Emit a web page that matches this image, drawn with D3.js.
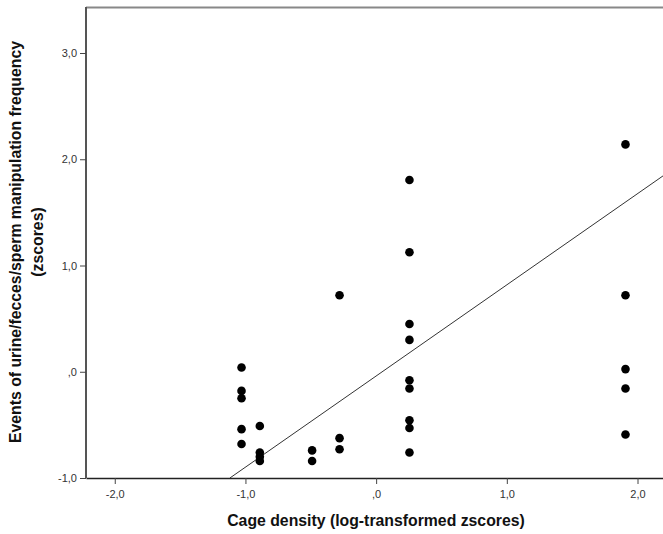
<!DOCTYPE html>
<html>
<head>
<meta charset="utf-8">
<script src="https://cdn.jsdelivr.net/npm/d3@7"></script>
<style>
  html, body { margin: 0; padding: 0; background: #fff; }
  svg { display: block; font-family: "Liberation Sans", Arial, sans-serif; }
</style>
</head>
<body>
<svg id="chart" width="663" height="534"></svg>
<script>
// Cage density groups (log-transformed z-scores) and observed z-scores per group
const densityX = [-1.03, -0.89, -0.49, -0.28, 0.255, 1.908];
const groupValues = [
  [0.04, -0.18, -0.25, -0.54, -0.68],
  [-0.51, -0.76, -0.80, -0.84],
  [-0.74, -0.84],
  [0.72, -0.625, -0.73],
  [1.805, 1.125, 0.45, 0.30, -0.08, -0.157, -0.456, -0.53, -0.76],
  [2.14, 0.72, 0.025, -0.157, -0.59]
];
// Linear fit (intercept, slope)
const fitIntercept = -0.04;
const fitSlope = 0.858;

const xTicks = [-2, -1, 0, 1, 2];
const yTicks = [-1, 0, 1, 2, 3];

const fmt = v => {
  const s = Math.abs(v).toFixed(1).replace(".", ",");
  const t = s.startsWith("0") ? s.slice(1) : s;
  return (v < 0 ? "-" : "") + t;
};

const svg = d3.select("#chart");
const mLeft = 86, mRight = 663, mTop = 7, mBottom = 478;

const x = d3.scaleLinear().domain([-2.22, 2.195]).range([mLeft, mRight]);
const y = d3.scaleLinear().domain([-1, 3]).range([mBottom, 53]);

const points = [];
densityX.forEach((dx, i) => groupValues[i].forEach(v => points.push({x: dx, y: v})));

// frame: top border
svg.append("line")
  .attr("x1", mLeft).attr("x2", mRight)
  .attr("y1", mTop + 0.5).attr("y2", mTop + 0.5)
  .attr("stroke", "#888").attr("stroke-width", 2);

// axes
const xAxis = svg.append("g")
  .attr("transform", `translate(0,${mBottom})`)
  .call(d3.axisBottom(x).tickValues(xTicks).tickFormat(fmt).tickSize(6).tickSizeOuter(0));
const yAxis = svg.append("g")
  .attr("transform", `translate(${mLeft},0)`)
  .call(d3.axisLeft(y).tickValues(yTicks).tickFormat(fmt).tickSize(6).tickSizeOuter(0));

yAxis.select(".domain").attr("d", `M0,${mTop}V${mBottom}`).attr("stroke", "#555").attr("stroke-width", 2);
xAxis.select(".domain").attr("stroke", "#222").attr("stroke-width", 1.5);
[xAxis, yAxis].forEach(a => {
  a.selectAll(".tick line").attr("stroke", "#444");
  a.selectAll(".tick text").attr("fill", "#333").style("font-size", "11px");
});
yAxis.selectAll(".tick text").attr("x", -9);
xAxis.selectAll(".tick text").attr("y", 12);

// regression line clipped to plot area
svg.append("clipPath").attr("id", "plotClip")
  .append("rect").attr("x", mLeft).attr("y", mTop).attr("width", mRight - mLeft).attr("height", mBottom - mTop);

const x0 = (-1 - fitIntercept) / fitSlope;
const x1 = 2.195;
svg.append("line")
  .attr("clip-path", "url(#plotClip)")
  .attr("x1", x(x0)).attr("y1", y(fitIntercept + fitSlope * x0))
  .attr("x2", x(x1)).attr("y2", y(fitIntercept + fitSlope * x1))
  .attr("stroke", "#333").attr("stroke-width", 1);

// points
svg.append("g").selectAll("circle")
  .data(points).join("circle")
  .attr("cx", d => x(d.x)).attr("cy", d => y(d.y))
  .attr("r", 4.3).attr("fill", "#000");

// axis titles
svg.append("text")
  .attr("x", 376).attr("y", 526)
  .attr("text-anchor", "middle")
  .style("font-size", "15.8px").style("font-weight", "bold").attr("fill", "#111")
  .text("Cage density (log-transformed zscores)");

const yt = svg.append("text")
  .attr("transform", "translate(21,242) rotate(-90)")
  .attr("text-anchor", "middle")
  .style("font-size", "15.8px").style("font-weight", "bold").attr("fill", "#111");
yt.append("tspan").attr("x", 0).attr("y", 0).text("Events of urine/fecces/sperm manipulation frequency");
yt.append("tspan").attr("x", 0).attr("y", 22).text("(zscores)");
</script>
</body>
</html>
